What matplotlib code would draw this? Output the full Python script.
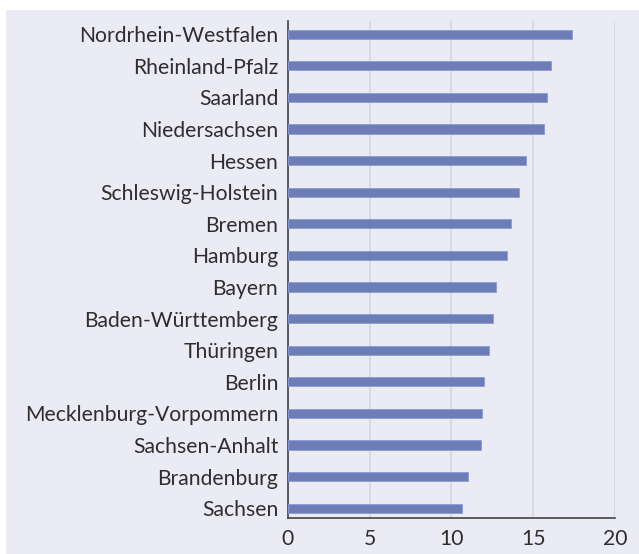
import matplotlib.pyplot as plt
from matplotlib.patches import Rectangle

# Bundeslaender, von unten nach oben
laender = ['Sachsen', 'Brandenburg', 'Sachsen-Anhalt', 'Mecklenburg-Vorpommern',
           'Berlin', 'Thüringen', 'Baden-Württemberg', 'Bayern', 'Hamburg',
           'Bremen', 'Schleswig-Holstein', 'Hessen', 'Niedersachsen',
           'Saarland', 'Rheinland-Pfalz', 'Nordrhein-Westfalen']
werte = [10.62, 11.01, 11.79, 11.85, 11.97, 12.29, 12.56, 12.74, 13.38,
         13.64, 14.15, 14.54, 15.68, 15.86, 16.07, 17.35]
xticks = [0, 5, 10, 15, 20]

plt.rcParams['font.family'] = ['Lato', 'DejaVu Sans']

bg = '#ebebf5'
bar_color = '#6d7db8'
text_color = '#2e2e2e'

fig = plt.figure(figsize=(6.39, 5.54), dpi=100, facecolor='white')
# lavender panel behind everything
fig.patches.append(Rectangle((6 / 639, 0), 1 - 6 / 639, 1 - 10 / 554,
                             transform=fig.transFigure, facecolor=bg,
                             edgecolor='none', zorder=-10))

ax = fig.add_axes([288 / 639, 1 - 518.3 / 554, (615 - 288) / 639, (518.3 - 21) / 554])
ax.set_facecolor('none')
ax.set_zorder(5)

ypos = list(range(len(laender)))
ax.barh(ypos, werte, height=0.29, color=bar_color, edgecolor='#8e9ad0',
        linewidth=0.6, zorder=3)

ax.set_xlim(0, 20)
ax.set_ylim(-0.32, len(laender) - 1 + 0.42)
ax.set_xticks(xticks)
ax.set_xticklabels([str(t) for t in xticks])
ax.set_yticks(ypos)
ax.set_yticklabels(laender)

ax.xaxis.grid(True, color='#d6d6de', linewidth=1.2, zorder=0)
ax.set_axisbelow(True)

for s in ['top', 'right']:
    ax.spines[s].set_visible(False)
for s in ['left', 'bottom']:
    ax.spines[s].set_color('#444444')
    ax.spines[s].set_linewidth(1.2)

ax.tick_params(axis='both', length=0, colors=text_color, labelsize=15.2)
ax.tick_params(axis='y', pad=7)
ax.tick_params(axis='x', pad=8)

fig.savefig('out.png', dpi=100, facecolor='white')
